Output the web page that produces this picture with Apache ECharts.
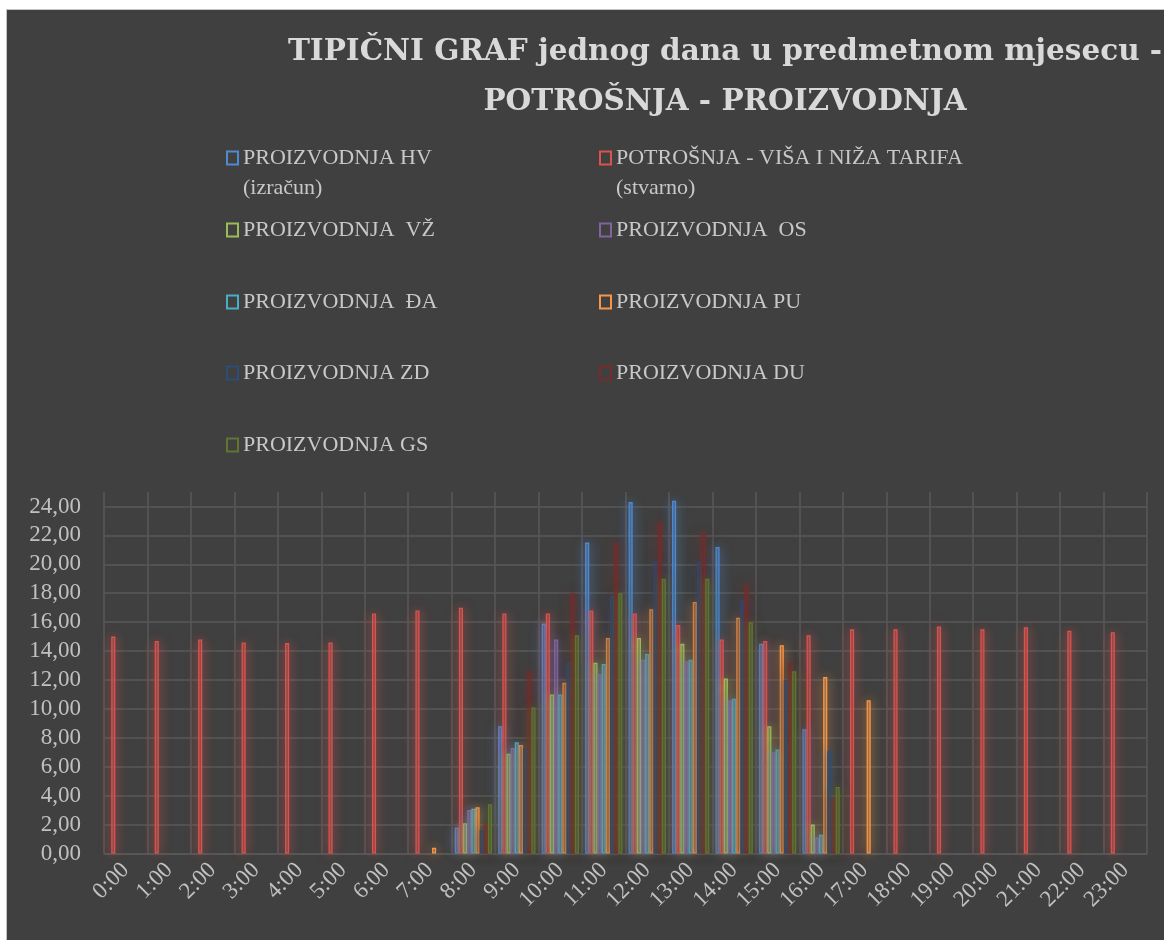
<!DOCTYPE html>
<html>
<head>
<meta charset="utf-8">
<script src="https://cdn.jsdelivr.net/npm/echarts/dist/echarts.min.js"></script>
<style>
  html, body { margin: 0; padding: 0; background: #ffffff; overflow: hidden; }
  #frame { position: absolute; left: 6px; top: 9px; border: 1px solid #c4c4c4; }
  #chart { width: 1436px; height: 950px; }
</style>
</head>
<body>
<div id="frame"><div id="chart"></div></div>
<script>
// hours of the day
const hours = ['0:00','1:00','2:00','3:00','4:00','5:00','6:00','7:00','8:00','9:00','10:00','11:00',
               '12:00','13:00','14:00','15:00','16:00','17:00','18:00','19:00','20:00','21:00','22:00','23:00'];

const seriesNames = ['PROIZVODNJA HV (izračun)', 'POTROŠNJA - VIŠA I NIŽA TARIFA (stvarno)',
  'PROIZVODNJA  VŽ', 'PROIZVODNJA  OS', 'PROIZVODNJA  ĐA', 'PROIZVODNJA PU',
  'PROIZVODNJA ZD', 'PROIZVODNJA DU', 'PROIZVODNJA GS'];

const hv  = [null,null,null,null,null,null,null,null,1.8,8.8,15.9,21.5,24.3,24.4,21.2,14.5,8.6,null,null,null,null,null,null,null];
const potrosnja = [15.0,14.7,14.8,14.6,14.55,14.6,16.6,16.8,17.0,16.6,16.6,16.8,16.6,15.8,14.8,14.7,15.1,15.5,15.5,15.7,15.5,15.65,15.4,15.3];
const vz  = [null,null,null,null,null,null,null,null,2.1,6.9,11.0,13.2,14.9,14.5,12.1,8.8,2.0,null,null,null,null,null,null,null];
const os  = [null,null,null,null,null,null,null,null,3.0,7.3,14.8,12.4,13.4,13.3,10.6,7.0,1.1,null,null,null,null,null,null,null];
const da  = [null,null,null,null,null,null,null,null,3.1,7.7,11.0,13.1,13.8,13.4,10.7,7.2,1.3,null,null,null,null,null,null,null];
const pu  = [null,null,null,null,null,null,null,0.4,3.2,7.5,11.8,14.9,16.9,17.4,16.3,14.4,12.2,10.6,null,null,null,null,null,null];
const zd  = [null,null,null,null,null,null,null,null,1.6,7.3,13.2,17.8,20.2,20.2,17.5,12.0,7.1,null,null,null,null,null,null,null];
const du  = [null,null,null,null,null,null,null,null,2.0,12.6,18.0,21.5,22.9,22.2,18.6,13.2,3.8,null,null,null,null,null,null,null];
const gs  = [null,null,null,null,null,null,null,null,3.4,10.1,15.1,18.0,19.0,19.0,16.0,12.6,4.6,null,null,null,null,null,null,null];

const seriesData = [hv, potrosnja, vz, os, da, pu, zd, du, gs];
const colors = ['#4f8ad0','#d9534f','#9bbb59','#8064a2','#4bacc6','#f79646','#2c4d75','#772c2a','#5f7530'];

// legend text wrapping as in the original
const wrapped = {
  'PROIZVODNJA HV (izračun)': '\nPROIZVODNJA HV\n(izračun)',
  'POTROŠNJA - VIŠA I NIŽA TARIFA (stvarno)': '\nPOTROŠNJA - VIŠA I NIŽA TARIFA\n(stvarno)'
};
const legendLeft = [219, 592, 219, 592, 219, 592, 219, 592, 219];
const legendMid  = [148, 148, 220, 220, 292, 292, 363, 363, 435];

function rgba(hex, a) {
  const n = parseInt(hex.slice(1), 16);
  return 'rgba(' + (n >> 16) + ',' + ((n >> 8) & 255) + ',' + (n & 255) + ',' + a + ')';
}

const labelFont = 'Liberation Serif';
const gridColor = '#595959';

const chart = echarts.init(document.getElementById('chart'));
chart.setOption({
  backgroundColor: '#404040',
  animation: false,
  title: {
    text: 'TIPIČNI GRAF jednog dana u predmetnom mjesecu -\nPOTROŠNJA - PROIZVODNJA',
    left: 'center',
    top: 12,
    textStyle: {
      fontFamily: 'DejaVu Serif',
      fontWeight: 'bold',
      fontSize: 29.5,
      lineHeight: 50,
      color: '#d9d9d9'
    }
  },
  legend: seriesNames.map((name, i) => ({
    data: [name],
    left: legendLeft[i],
    top: wrapped[name] ? legendMid[i] - 45 : legendMid[i] - 15,
    padding: 0,
    icon: 'rect',
    itemWidth: 11,
    itemHeight: 13,
    selectedMode: false,
    formatter: n => wrapped[n] || n,
    itemStyle: { color: 'rgba(0,0,0,0)', borderColor: colors[i], borderWidth: 2, shadowBlur: 0, shadowColor: 'rgba(0,0,0,0)' },
    textStyle: { color: '#c8c8c8', fontFamily: labelFont, fontSize: 22, lineHeight: 30 }
  })),
  grid: { left: 97, top: 482, width: 1043, height: 361.5 },
  xAxis: {
    type: 'category',
    data: hours,
    axisLine: { show: true, lineStyle: { color: gridColor, width: 1.5 } },
    axisTick: { show: false },
    splitLine: { show: true, lineStyle: { color: gridColor, width: 1.5 } },
    axisLabel: {
      interval: 0,
      rotate: 45,
      margin: 13,
      color: '#c0c0c0',
      fontFamily: labelFont,
      fontSize: 23
    }
  },
  yAxis: {
    type: 'value',
    min: 0,
    max: 25,
    interval: 2,
    axisLine: { show: false },
    axisTick: { show: false },
    splitLine: { show: true, showMaxLine: false, lineStyle: { color: gridColor, width: 1.5 } },
    axisLabel: {
      showMaxLabel: false,
      margin: 23,
      color: '#c0c0c0',
      fontFamily: labelFont,
      fontSize: 23,
      formatter: v => v.toFixed(2).replace('.', ',')
    }
  },
  series: seriesData.map((d, i) => ({
    name: seriesNames[i],
    type: 'bar',
    data: d,
    barGap: '0%',
    barCategoryGap: '14%',
    itemStyle: {
      color: rgba(colors[i], 0.45),
      borderColor: colors[i],
      borderWidth: 1.3,
      shadowBlur: 12,
      shadowColor: rgba(colors[i], 0.85)
    },
    emphasis: { disabled: true }
  }))
});
</script>
</body>
</html>
